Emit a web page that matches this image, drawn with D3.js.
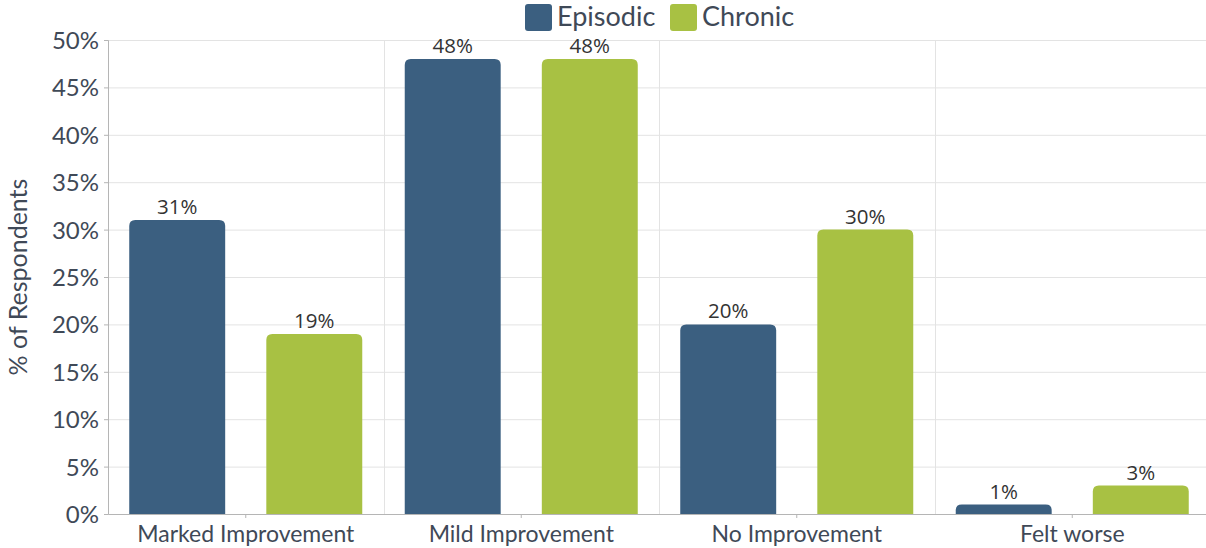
<!DOCTYPE html>
<html>
<head>
<meta charset="utf-8">
<script src="https://cdn.jsdelivr.net/npm/d3@7"></script>
<style>
  body { margin: 0; background: #fff; }
  svg { display: block; }
</style>
</head>
<body>
<svg></svg>
<script>
var width = 1206;
var height = 548;

var categories = ["Marked Improvement", "Mild Improvement", "No Improvement", "Felt worse"];
var seriesNames = ["Episodic", "Chronic"];
var episodic = [31, 48, 20, 1];
var chronic = [19, 48, 30, 3];
var yTicks = [0, 5, 10, 15, 20, 25, 30, 35, 40, 45, 50];
var colors = ["#3b5f80", "#a8c143"];

var margin = {top: 40, right: -4, bottom: 34, left: 108};

var svg = d3.select('svg')
    .attr('width', width)
    .attr('height', height);

// one row per category with both series
var rows = categories.map(function (c, i) {
    return {cat: c, values: [episodic[i], chronic[i]]};
});

var x0 = d3.scaleBand()
    .domain(categories)
    .range([margin.left, width - margin.right]);

var x1 = d3.scaleBand()
    .domain(seriesNames)
    .range([0, x0.bandwidth()])
    .paddingInner(0.3)
    .paddingOuter(0.155);

var y = d3.scaleLinear()
    .domain([0, 50])
    .range([height - margin.bottom, margin.top]);

// horizontal gridlines
svg.append('g')
    .selectAll('line')
    .data(yTicks.slice(1))
    .enter()
    .append('line')
    .attr('x1', margin.left)
    .attr('x2', width)
    .attr('y1', function (d) { return y(d) + 0.5; })
    .attr('y2', function (d) { return y(d) + 0.5; })
    .attr('stroke', '#e3e3e3');

// vertical separators between categories
svg.append('g')
    .selectAll('line')
    .data(categories.slice(1))
    .enter()
    .append('line')
    .attr('x1', function (d) { return Math.round(x0(d)) + 0.5; })
    .attr('x2', function (d) { return Math.round(x0(d)) + 0.5; })
    .attr('y1', margin.top)
    .attr('y2', y(0))
    .attr('stroke', '#e3e3e3');

// rounded-top bar path
var barPath = function (x, yTop, w, yBase, r) {
    r = Math.min(r, (yBase - yTop), w / 2);
    return 'M' + x + ',' + yBase +
        'V' + (yTop + r) +
        'Q' + x + ',' + yTop + ' ' + (x + r) + ',' + yTop +
        'H' + (x + w - r) +
        'Q' + (x + w) + ',' + yTop + ' ' + (x + w) + ',' + (yTop + r) +
        'V' + yBase + 'Z';
};

var groups = svg.append('g')
    .selectAll('g')
    .data(rows)
    .enter()
    .append('g')
    .attr('transform', function (d) { return 'translate(' + x0(d.cat) + ',0)'; });

var cells = groups.selectAll('g')
    .data(function (d) {
        return d.values.map(function (v, i) { return {name: seriesNames[i], value: v, i: i}; });
    })
    .enter()
    .append('g');

cells.append('path')
    .attr('d', function (d) {
        return barPath(x1(d.name), y(d.value), x1.bandwidth(), y(0), 6);
    })
    .attr('fill', function (d) { return colors[d.i]; });

cells.append('text')
    .attr('x', function (d) { return x1(d.name) + x1.bandwidth() / 2; })
    .attr('y', function (d) { return y(d.value) - 6; })
    .attr('text-anchor', 'middle')
    .attr('font-family', 'Open Sans, sans-serif')
    .attr('font-size', 20.5)
    .attr('fill', '#333')
    .text(function (d) { return d.value + '%'; });

// y axis
var yAxis = svg.append('g')
    .attr('transform', 'translate(' + margin.left + ',0)')
    .call(d3.axisLeft(y).tickValues(yTicks).tickSize(4).tickPadding(5)
        .tickFormat(function (d) { return d + '%'; }));
yAxis.select('.domain').attr('stroke', '#b5b5b5');
yAxis.selectAll('.tick line').attr('stroke', '#b5b5b5');
yAxis.selectAll('text')
    .attr('font-family', 'Lato, sans-serif')
    .attr('font-size', 24)
    .attr('fill', '#3f4957')
    .attr('dy', '0.35em');

// x axis
var xAxis = svg.append('g')
    .attr('transform', 'translate(0,' + y(0) + ')')
    .call(d3.axisBottom(x0).tickSize(4).tickSizeOuter(0).tickPadding(8));
xAxis.select('.domain').attr('stroke', '#b5b5b5');
xAxis.selectAll('.tick line').attr('stroke', '#b5b5b5');
xAxis.selectAll('text')
    .attr('font-family', 'Lato, sans-serif')
    .attr('font-size', 23)
    .attr('fill', '#3f4957');

// y axis title
svg.append('text')
    .attr('transform', 'translate(27,' + ((margin.top + y(0)) / 2) + ') rotate(-90)')
    .attr('text-anchor', 'middle')
    .attr('font-family', 'Lato, sans-serif')
    .attr('font-size', 25)
    .attr('fill', '#3f4957')
    .text('% of Respondents');

// legend
var legendX = [525, 670];
var legend = svg.append('g')
    .selectAll('g')
    .data(seriesNames)
    .enter()
    .append('g')
    .attr('transform', function (d, i) { return 'translate(' + legendX[i] + ',4)'; });

legend.append('rect')
    .attr('width', 27)
    .attr('height', 27)
    .attr('rx', 3)
    .attr('fill', function (d, i) { return colors[i]; });

legend.append('text')
    .attr('x', 32)
    .attr('y', 22)
    .attr('font-family', 'Lato, sans-serif')
    .attr('font-size', 27)
    .attr('fill', '#3f4957')
    .text(function (d) { return d; });
</script>
</body>
</html>
